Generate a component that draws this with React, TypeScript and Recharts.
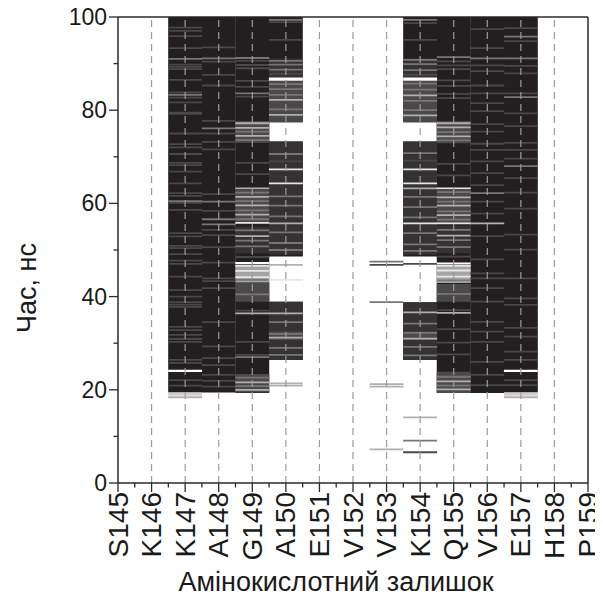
import React from 'react';
import { ComposedChart, XAxis, YAxis, ReferenceArea, ReferenceLine } from 'recharts';

// ---------- data ----------
const residues = ['S145', 'K146', 'K147', 'A148', 'G149', 'A150', 'E151', 'V152', 'V153', 'K154', 'Q155', 'V156', 'E157', 'H158', 'P159'];
const firstResidue = 145;
const lastResidue = 159;
const timeTicks = [0, 10, 20, 30, 40, 50, 60, 70, 80, 90, 100];

// fully structured time spans: [residue, from ns, to ns]
const structuredSpans: [number, number, number][] = [
  [147, 19.4, 100], [148, 19.4, 100], [149, 19.3, 100],
  [150, 26.4, 38.9], [150, 48.6, 73.3], [150, 77.4, 100],
  [154, 26.4, 38.8], [154, 48.6, 73.3], [154, 77.4, 100],
  [155, 19.3, 100], [156, 19.3, 100], [157, 19.4, 100],
];

// partially structured (mixed) periods: [residue, from, to, level 1..4 (higher = lighter)]
const mixedBands: [number, number, number, number][] = [
  [147, 18.7, 19.4, 4], [157, 18.7, 19.4, 4],
  [149, 73.0, 77.7, 2], [149, 55.7, 62.9, 2], [149, 49.3, 55.0, 1], [149, 43.0, 46.9, 3], [149, 38.9, 42.9, 2], [149, 19.4, 23.4, 2],
  [155, 73.0, 77.7, 2], [155, 55.7, 62.9, 2], [155, 49.3, 55.2, 1], [155, 42.9, 46.8, 3], [155, 38.9, 42.7, 2], [155, 19.3, 23.9, 2],
  [150, 87.0, 91.1, 1], [150, 77.4, 86.3, 2], [150, 49.0, 73.3, 1], [150, 26.4, 38.9, 1], [150, 30.7, 32.5, 2],
  [154, 87.0, 91.1, 1], [154, 77.4, 86.3, 2], [154, 49.0, 73.3, 1], [154, 26.4, 38.8, 1], [154, 30.7, 32.5, 2],
];

// unstructured breaks inside spans: [residue, from, to]
const breaks: [number, number, number][] = [
  [147, 23.8, 24.3], [157, 23.8, 24.3], [150, 86.3, 87.0], [154, 86.3, 87.0], [149, 47.0, 47.4], [155, 46.9, 47.3],
];

// individual frames with a different state: [time ns, level]
const framesK147: [number, number][] = [
  [97.7, 1], [97.0, 1], [95.9, 1], [93.3, 1], [91.0, 2], [89.8, 1], [89.3, 1], [88.8, 1], [86.5, 1], [83.8, 1], [83.3, 2],
  [82.7, 1], [81.7, 1], [79.5, 1], [79.2, 1], [75.0, 1], [72.7, 1], [72.0, 1], [70.6, 1], [68.7, 1], [68.2, 1], [66.8, 1],
  [64.3, 1], [62.2, 1], [61.6, 1], [60.5, 2], [60.1, 1], [58.6, 1], [53.6, 1], [52.9, 1], [50.9, 1], [50.4, 1], [49.1, 1],
  [47.7, 1], [47.0, 1], [44.3, 1], [41.4, 1], [40.0, 1], [38.8, 1], [38.3, 1], [37.8, 1], [33.5, 1], [32.8, 1], [31.8, 1],
  [30.9, 1], [30.3, 1], [26.4, 1], [25.8, 1], [22.1, 1], [20.9, 1], [18.4, 3],
];
const framesA148: [number, number][] = [
  [93.5, 1], [91.1, 2], [90.4, 1], [87.6, 1], [85.3, 1], [77.7, 1], [76.1, 2], [75.0, 1], [73.2, 1], [71.6, 1], [62.0, 1],
  [60.4, 2], [58.4, 1], [56.6, 2], [55.5, 2], [54.3, 1], [53.2, 1], [50.6, 1], [47.3, 1], [43.9, 1], [43.3, 1], [41.8, 1],
  [34.5, 1], [29.3, 1], [26.8, 1], [25.3, 1], [23.2, 1], [21.9, 1], [20.7, 1],
];
const framesG149: [number, number][] = [
  [91.2, 2], [90.6, 1], [89.7, 1], [89.0, 1], [86.3, 1], [85.0, 1], [83.6, 2], [82.9, 1],
  [77.2, 3], [76.2, 3], [75.4, 2], [74.5, 3], [73.6, 2], [73.2, 1], [68.7, 1], [66.3, 1], [63.2, 3],
  [62.3, 2], [61.4, 3], [60.5, 2], [59.6, 3], [58.5, 2], [57.6, 3], [56.6, 2], [55.8, 4],
  [54.2, 2], [53.0, 3], [52.0, 2], [50.8, 2], [48.5, 1], [46.6, 4], [45.5, 4], [44.2, 4], [43.6, 2],
  [40.5, 2], [39.6, 1], [37.0, 1], [36.4, 3], [30.3, 1], [27.5, 1], [27.0, 2], [22.6, 2], [21.6, 3], [20.8, 2], [20.0, 3],
];
const framesA150: [number, number][] = [
  [99.4, 2], [98.9, 1], [95.1, 1], [90.6, 2], [89.8, 2], [88.7, 2], [87.8, 1],
  [85.6, 2], [84.5, 2], [83.3, 2], [82.2, 3], [81.0, 1], [80.2, 2], [79.0, 3], [78.2, 1],
  [70.6, 2], [69.0, 1], [67.3, 4], [64.3, 4], [61.5, 2], [59.5, 2], [57.2, 2], [55.7, 3], [53.8, 2], [51.5, 2], [50.0, 2],
  [36.4, 3], [34.5, 2], [32.0, 2], [31.2, 3], [29.0, 2], [27.5, 2],
  [46.8, 3], [43.6, 4], [21.4, 3], [20.9, 3],
];
const framesV153: [number, number][] = [
  [47.5, 2], [46.8, 1], [38.8, 2], [21.2, 3], [20.7, 3], [7.2, 3],
];
const framesK154: [number, number][] = [
  [99.4, 2], [98.7, 1], [95.1, 1], [90.8, 2], [89.9, 2], [88.6, 2], [87.6, 1],
  [85.7, 2], [84.4, 2], [83.2, 3], [82.0, 2], [80.9, 1], [80.0, 2], [78.9, 3], [78.0, 1],
  [70.8, 2], [69.2, 1], [67.3, 4], [64.3, 4], [63.2, 3], [61.4, 2], [59.2, 2], [57.0, 2], [55.7, 4], [53.6, 2], [51.2, 2], [49.8, 2],
  [47.0, 1], [36.6, 3], [34.2, 2], [32.2, 2], [31.0, 3], [29.2, 2], [27.4, 2],
  [14.1, 3], [9.1, 2], [6.6, 1],
];
const framesQ155: [number, number][] = [
  [91.4, 2], [90.5, 1], [89.6, 1], [88.8, 1], [86.4, 1], [85.2, 1], [83.5, 1], [82.6, 1],
  [77.2, 3], [76.3, 3], [75.3, 2], [74.4, 3], [73.5, 2], [73.1, 1], [68.5, 1], [66.0, 1], [63.2, 4],
  [62.4, 2], [61.3, 3], [60.4, 2], [59.5, 3], [58.3, 2], [57.5, 3], [56.5, 2], [55.7, 4],
  [54.3, 2], [53.1, 3], [52.1, 2], [50.6, 2], [48.6, 1], [46.6, 4], [45.6, 4], [44.3, 4], [43.5, 2],
  [40.6, 2], [39.5, 1], [37.1, 1], [36.5, 3], [33.0, 1], [30.1, 1], [27.6, 1], [22.8, 2], [21.8, 3], [20.9, 2], [20.1, 3],
];
const framesV156: [number, number][] = [
  [97.4, 1], [93.3, 1], [91.1, 2], [89.6, 1], [88.4, 1], [85.3, 1], [83.6, 1], [81.5, 1], [79.8, 1], [77.0, 1], [75.4, 1],
  [72.8, 1], [71.5, 1], [69.0, 1], [66.5, 1], [63.9, 1], [62.2, 2], [60.4, 1], [57.8, 1], [55.7, 3], [53.0, 1], [48.0, 1],
  [45.0, 1], [43.9, 1], [41.8, 1], [38.9, 1], [34.6, 1], [32.5, 1], [30.3, 1], [26.0, 1], [23.2, 1], [21.0, 1],
];
const framesE157: [number, number][] = [
  [97.6, 1], [95.8, 2], [94.8, 1], [91.1, 2], [89.5, 1], [87.9, 1], [83.6, 1], [82.8, 2], [79.3, 1], [76.6, 1],
  [73.0, 1], [71.5, 1], [69.6, 1], [68.0, 2], [65.4, 1], [62.3, 1], [58.9, 1], [53.3, 1], [50.1, 1],
  [43.9, 1], [39.6, 1], [38.2, 1], [33.3, 1], [31.4, 1], [28.2, 1], [26.4, 1], [22.1, 1], [21.0, 1], [18.4, 3],
];

const residueFrames: [number, [number, number][]][] = [
  [147, framesK147], [148, framesA148], [149, framesG149], [150, framesA150], [153, framesV153],
  [154, framesK154], [155, framesQ155], [156, framesV156], [157, framesE157],
];

// ---------- styles ----------
const FONT = '"Liberation Sans", Arial, Helvetica, sans-serif';
const BLACK = '#231f20';
const BAND_COLORS = ['', '#353233', '#4c494a', '#a5a4a4', '#cfcfcf'];
const FRAME_COLORS = ['', '#4a4748', '#777676', '#b0b0b0', '#e6e6e6'];
const AXIS_COLOR = '#2a2a2a';
const HALF = 0.505;
const FRAME_HALF = 0.19;

const minorX: number[] = [];
for (let i = firstResidue; i <= lastResidue; i++) {
  minorX.push(i);
  if (i < lastResidue) minorX.push(i + 0.5);
}

const XTick = (props: any) => {
  const { x, y, payload } = props;
  const v = payload.value as number;
  const major = Math.abs(v - Math.round(v)) < 1e-6;
  if (!major) {
    return <line x1={x} x2={x} y1={y} y2={y + 4.5} stroke={AXIS_COLOR} strokeWidth={1.3} />;
  }
  const ty = y + 9;
  return (
    <g>
      <line x1={x} x2={x} y1={y} y2={y + 9} stroke={AXIS_COLOR} strokeWidth={1.3} />
      <text
        x={x}
        y={ty}
        transform={`rotate(-90 ${x} ${ty})`}
        textAnchor="end"
        dominantBaseline="central"
        fontFamily={FONT}
        fontSize={28}
        fill="#1a1a1a"
      >
        {residues[Math.round(v) - firstResidue]}
      </text>
    </g>
  );
};

const YTick = (props: any) => {
  const { x, y, payload } = props;
  const v = payload.value as number;
  const major = v % 20 === 0;
  if (!major) {
    return <line x1={x} x2={x - 4.5} y1={y} y2={y} stroke={AXIS_COLOR} strokeWidth={1.3} />;
  }
  return (
    <g>
      <line x1={x} x2={x - 9} y1={y} y2={y} stroke={AXIS_COLOR} strokeWidth={1.3} />
      <text x={x - 11} y={y} textAnchor="end" dominantBaseline="central" fontFamily={FONT} fontSize={23} fill="#1a1a1a">
        {v}
      </text>
    </g>
  );
};

const XTitle = (props: any) => {
  const vb = props.viewBox || { x: 0, y: 0, width: 0, height: 0 };
  return (
    <text x={vb.x + vb.width / 2 - 17} y={vb.y + 108} textAnchor="middle" fontFamily={FONT} fontSize={27} fill="#1a1a1a">
      Амінокислотний залишок
    </text>
  );
};

const YTitle = (props: any) => {
  const vb = props.viewBox || { x: 0, y: 0, width: 0, height: 0 };
  const cx = vb.x + 19;
  const cy = vb.y + vb.height / 2 + 38;
  return (
    <text
      x={cx}
      y={cy}
      transform={`rotate(-90 ${cx} ${cy})`}
      textAnchor="middle"
      dominantBaseline="central"
      fontFamily={FONT}
      fontSize={27}
      fill="#1a1a1a"
    >
      Час, нс
    </text>
  );
};

const chartData = residues.map((name, i) => ({ pos: firstResidue + i, name }));

export default function App() {
  const areas: React.ReactNode[] = [];
  structuredSpans.forEach(([r, a, b], i) => {
    areas.push(
      <ReferenceArea key={`s${i}`} x1={r - HALF} x2={r + HALF} y1={a} y2={b} fill={BLACK} fillOpacity={1} stroke="none" ifOverflow="visible" />
    );
  });
  mixedBands.forEach(([r, a, b, lvl], i) => {
    areas.push(
      <ReferenceArea key={`m${i}`} x1={r - HALF} x2={r + HALF} y1={a} y2={b} fill={BAND_COLORS[lvl]} fillOpacity={1} stroke="none" ifOverflow="visible" />
    );
  });
  residueFrames.forEach(([r, frames]) => {
    frames.forEach(([t, lvl], j) => {
      areas.push(
        <ReferenceArea
          key={`f${r}-${j}`}
          x1={r - HALF}
          x2={r + HALF}
          y1={t - FRAME_HALF}
          y2={t + FRAME_HALF}
          fill={FRAME_COLORS[lvl]}
          fillOpacity={1}
          stroke="none"
          ifOverflow="visible"
        />
      );
    });
  });
  breaks.forEach(([r, a, b], i) => {
    areas.push(
      <ReferenceArea key={`b${i}`} x1={r - HALF} x2={r + HALF} y1={a} y2={b} fill="#ffffff" fillOpacity={1} stroke="none" ifOverflow="visible" />
    );
  });

  const grid = residues.map((_, i) => firstResidue + i).filter((v) => v > firstResidue && v < lastResidue);

  return (
    <div style={{ width: 595, height: 603, marginTop: -8, background: '#fff' }}>
      <ComposedChart width={595} height={603} data={chartData} margin={{ top: 17, right: 15, bottom: 0, left: 0 }}>
        <XAxis
          dataKey="pos"
          type="number"
          domain={[firstResidue, lastResidue]}
          ticks={minorX}
          interval={0}
          tickSize={0}
          tickMargin={0}
          tickLine={false}
          tick={<XTick />}
          height={120}
          axisLine={{ stroke: AXIS_COLOR, strokeWidth: 1.5 }}
          allowDataOverflow
          label={<XTitle />}
        />
        <YAxis
          type="number"
          domain={[0, 100]}
          ticks={timeTicks}
          interval={0}
          tickSize={0}
          tickMargin={0}
          tickLine={false}
          tick={<YTick />}
          width={110}
          axisLine={{ stroke: AXIS_COLOR, strokeWidth: 1.5 }}
          allowDataOverflow
          label={<YTitle />}
        />
        {areas}
        {grid.map((v) => (
          <ReferenceLine key={`g${v}`} x={v} stroke="#9b9b9b" strokeWidth={1.2} strokeDasharray="7 5" ifOverflow="visible" />
        ))}
        <ReferenceLine y={100} stroke={AXIS_COLOR} strokeWidth={1.5} ifOverflow="visible" />
        <ReferenceLine x={lastResidue} stroke={AXIS_COLOR} strokeWidth={1.5} ifOverflow="visible" />
      </ComposedChart>
    </div>
  );
}
